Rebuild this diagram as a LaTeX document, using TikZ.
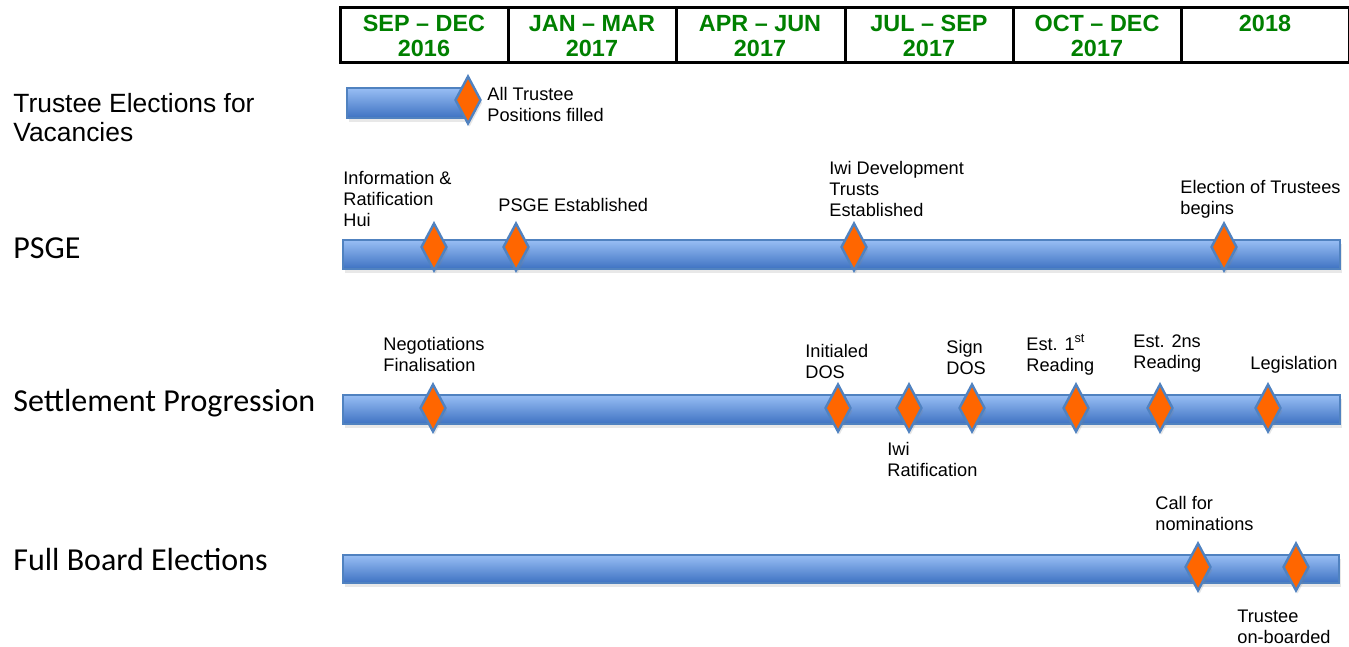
\documentclass[tikz,border=0pt]{standalone}
\usepackage{fontspec}
\setmainfont{Liberation Sans}
\newfontfamily\calibri{Carlito}
\usepackage{tikz}
\usetikzlibrary{fit,shapes.geometric,shadows}
\definecolor{barhi}{RGB}{152,190,244}
\definecolor{barlo}{RGB}{62,114,194}
\definecolor{baredge}{RGB}{80,130,192}
\definecolor{msorange}{RGB}{255,102,0}
\definecolor{hdrgreen}{RGB}{0,128,0}
\tikzstyle{bar} = [draw=baredge, line width=1pt, top color=barhi, bottom color=barlo, inner sep=0, drop shadow={opacity=0.18, shadow xshift=0.8pt, shadow yshift=-2pt}]
\tikzstyle{ms} = [diamond, draw=baredge, line width=1.2pt, fill=msorange, inner sep=0, minimum width=13pt, minimum height=24pt, drop shadow={opacity=0.2, shadow xshift=0.8pt, shadow yshift=-1.5pt}]
\tikzstyle{evt} = [inner sep=0, align=left, anchor=west, font={\fontsize{9.1}{10.5}\selectfont}]
\tikzstyle{row} = [inner sep=0, align=left, anchor=west, font={\calibri\fontsize{16}{18.5}\selectfont}]
\tikzstyle{hdr} = [draw=black, line width=1.5pt, inner sep=0]
\tikzstyle{hdrtxt} = [inner sep=0, anchor=north, align=center, text=hdrgreen, font={\bfseries\fontsize{11.7}{12.5}\selectfont}]

\begin{document}
\begin{tikzpicture}[x=0.5pt, y=-0.5pt]
    \useasboundingbox (0,0) rectangle (1349,647);
    % header
    \node[hdr, fit={(340,8)(508,63)}] (sepdec) {};
    \node[hdr, fit={(508,8)(676,63)}] (janmar) {};
    \node[hdr, fit={(676,8)(845,63)}] (aprjun) {};
    \node[hdr, fit={(845,8)(1013,63)}] (julsep) {};
    \node[hdr, fit={(1013,8)(1181,63)}] (octdec) {};
    \node[hdr, fit={(1181,8)(1349,63)}] (yr18) {};
    \node[hdrtxt] (sepdectxt) at (424,15) {SEP – DEC\\2016};
    \node[hdrtxt] (janmartxt) at (592,15) {JAN – MAR\\2017};
    \node[hdrtxt] (aprjuntxt) at (760,15) {APR – JUN\\2017};
    \node[hdrtxt] (julseptxt) at (929,15) {JUL – SEP\\2017};
    \node[hdrtxt] (octdectxt) at (1097,15) {OCT – DEC\\2017};
    \node[hdrtxt] (yr18txt) at (1265,15) {2018};
    % row labels
    \node[inner sep=0, align=left, anchor=west, font={\fontsize{13.2}{14.5}\selectfont}] (tevrow) at (13,118) {Trustee Elections for\\Vacancies};
    \node[row] (psgerow) at (13,248) {PSGE};
    \node[row] (setrow) at (13,403) {Settlement Progression};
    \node[row] (fbrow) at (13,560) {Full Board Elections};
    % bars
    \node[bar, fit={(347,88)(468,118)}] (tevbar) {};
    \node[bar, fit={(343,240)(1340,269)}] (psgebar) {};
    \node[bar, fit={(343,395)(1340,424)}] (setbar) {};
    \node[bar, fit={(343,555)(1339,583)}] (fbbar) {};
    % milestones
    \node[ms] (tev1) at (468,100) {};
    \node[ms] (psge1) at (434,247) {};
    \node[ms] (psge2) at (516,247) {};
    \node[ms] (psge3) at (854,247) {};
    \node[ms] (psge4) at (1224,247) {};
    \node[ms] (set1) at (433,408) {};
    \node[ms] (set2) at (838,408) {};
    \node[ms] (set3) at (909,408) {};
    \node[ms] (set4) at (972,408) {};
    \node[ms] (set5) at (1076,408) {};
    \node[ms] (set6) at (1160,408) {};
    \node[ms] (set7) at (1268,408) {};
    \node[ms] (fb1) at (1198,567) {};
    \node[ms] (fb2) at (1296,567) {};
    % milestone labels
    \node[evt] (tev1txt) at (487,104) {All Trustee\\Positions filled};
    \node[evt] (psge1txt) at (343,199) {Information \&\\Ratification\\Hui};
    \node[evt] (psge2txt) at (498,205) {PSGE Established};
    \node[evt] (psge3txt) at (829,189) {Iwi Development\\Trusts\\Established};
    \node[evt] (psge4txt) at (1180,199) {Election of Trustees\\begins};
    \node[evt] (set1txt) at (383,354) {Negotiations\\Finalisation};
    \node[evt] (set2txt) at (805,361) {Initialed\\DOS};
    \node[evt] (set3txt) at (887,459) {Iwi\\Ratification};
    \node[evt] (set4txt) at (946,357) {Sign\\DOS};
    \node[evt] (set5txt) at (1026,355) {Est. 1\textsuperscript{st}\\Reading};
    \node[evt] (set6txt) at (1133,354) {Est. 2ns\\Reading};
    \node[evt] (set7txt) at (1250,365) {Legislation};
    \node[evt] (fb1txt) at (1155,513) {Call for\\nominations};
    \node[evt] (fb2txt) at (1237,627) {Trustee\\on-boarded};
\end{tikzpicture}
\end{document}
